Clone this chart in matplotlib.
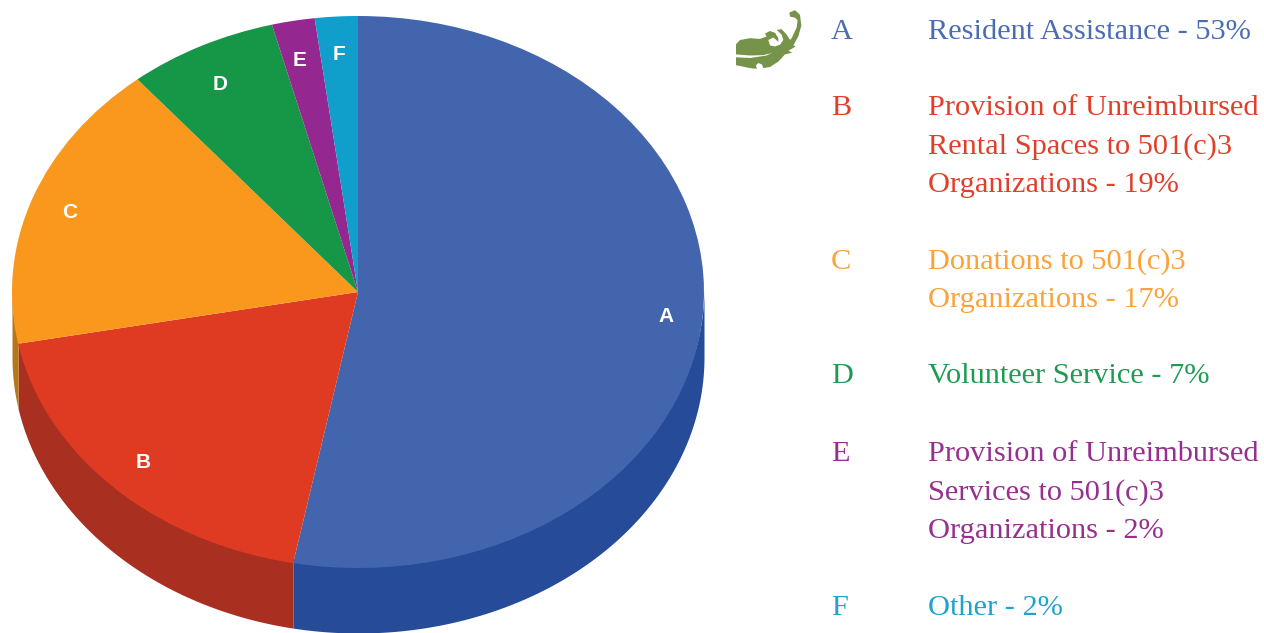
import numpy as np
import matplotlib
matplotlib.use("Agg")
import matplotlib.pyplot as plt
from matplotlib.patches import Polygon, Circle

W, H = 1264, 633
categories = ["A", "B", "C", "D", "E", "F"]
values = [53, 19, 17, 7, 2, 2]
top_colors = ["#4265ae", "#de3b22", "#fa981e", "#169647", "#952790", "#109ecb"]
side_colors = ["#254b99", "#a92f20", "#b5761c", "#0f6e34", "#6c1c69", "#0b7396"]
text_colors = ["#4a6cb3", "#e03f2a", "#f9a33a", "#1f9a52", "#96308f", "#1ea3cc"]
descriptions = [
    ["Resident Assistance - 53%"],
    ["Provision of Unreimbursed", "Rental Spaces to 501(c)3", "Organizations - 19%"],
    ["Donations to 501(c)3", "Organizations - 17%"],
    ["Volunteer Service - 7%"],
    ["Provision of Unreimbursed", "Services to 501(c)3", "Organizations - 2%"],
    ["Other - 2%"],
]
line_y = [[32], [108, 147, 185], [262, 300], [376], [454, 493, 531], [608]]
pie_label_xy = [(666, 317), (143, 462), (70, 212), (220, 84), (300, 60), (339, 55)]

cx, cy, rx, ry, depth = 358, 292, 346, 276, 65

fig = plt.figure(figsize=(W / 100, H / 100), dpi=100, facecolor="white")
ax = fig.add_axes([0, 0, 1, 1])
ax.pie(values, colors=top_colors, startangle=90, counterclock=False, radius=1,
       wedgeprops=dict(linewidth=0), frame=False)
ax.set_aspect("auto")
ax.set_xlim(-cx / rx, (W - cx) / rx)
ax.set_ylim(-(H - cy) / ry, cy / ry)
ax.set_axis_off()

# extruded wall of the pie, front half only
d = depth / ry
edges = np.cumsum([0] + values) / sum(values) * 2 * np.pi
for a0, a1, col in zip(edges[:-1], edges[1:], side_colors):
    lo, hi = max(a0, np.pi / 2), min(a1, 3 * np.pi / 2)
    if hi <= lo:
        continue
    th = np.linspace(lo, hi, 200)
    x = np.sin(th)
    y = np.cos(th)
    ax.fill_between(x, y + 0.015, y - d, color=col, linewidth=0, zorder=0.5)

ov = fig.add_axes([0, 0, 1, 1], facecolor="none")
ov.set_xlim(0, W)
ov.set_ylim(H, 0)
ov.set_axis_off()

for c, (x, y) in zip(categories, pie_label_xy):
    ov.text(x, y, c, color="white", family="Liberation Sans", fontweight="bold",
            fontsize=15, ha="center", va="center")

for c, lines, ys, col in zip(categories, descriptions, line_y, text_colors):
    ov.text(831, ys[0], c, color=col, family="Liberation Serif", fontsize=21.9,
            ha="left", va="center")
    for s, y in zip(lines, ys):
        ov.text(928, y, s, color=col, family="Liberation Serif", fontsize=21.9,
                ha="left", va="center")

# ornament, outlined at 3x and scaled down
green = "#76934a"
leaf_low = [(18, 148), (60, 150), (110, 143), (150, 125), (185, 95), (200, 65), (203, 45),
            (195, 38), (180, 35), (178, 24), (195, 17), (210, 30), (214, 60), (205, 90),
            (190, 115), (197, 118), (175, 130), (187, 135), (165, 140), (155, 150), (145, 160),
            (120, 175), (100, 178), (96, 168), (85, 164), (78, 170), (80, 180), (60, 178), (18, 170)]
leaf_up = [(18, 112), (30, 100), (60, 95), (90, 97), (110, 90), (105, 82), (120, 75), (135, 80),
           (145, 95), (145, 105), (130, 93), (115, 100), (120, 115), (135, 118), (150, 113),
           (160, 100), (155, 85), (140, 72), (155, 70), (170, 85), (180, 100), (165, 120),
           (140, 133), (100, 142), (60, 143), (18, 140)]
for pts in (leaf_low, leaf_up):
    p = np.array(pts, float) * [1 / 3, 0.36] + [730, 4]
    ov.add_patch(Polygon(p, closed=True, facecolor=green, edgecolor="none"))

fig.savefig("out.png", dpi=100, facecolor="white")
